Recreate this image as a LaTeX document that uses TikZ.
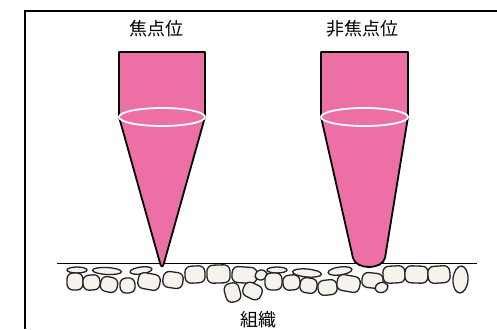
\documentclass[tikz,border=0pt]{standalone}
\usepackage{fontspec}
\newfontfamily\jpfont{Noto Sans CJK JP}
\usetikzlibrary{shapes.geometric}

\definecolor{probepink}{RGB}{236,112,165}
\definecolor{cellfill}{RGB}{245,243,235}
\definecolor{celldraw}{RGB}{35,35,35}

\tikzset{
  probe/.style={fill=probepink, draw=black, line width=1.8pt, line join=round},
  lens/.style={draw=white, line width=1.8pt},
  cell/.style={draw=celldraw, fill=cellfill, line width=1.3pt, rounded corners=6pt,
    inner sep=0pt, outer sep=0pt},
  flatcell/.style={cell, ellipse},
  caption/.style={font=\jpfont\fontsize{18}{20}\selectfont, text=black},
}

\begin{document}
\begin{tikzpicture}[x=1pt, y=-1pt]
	\useasboundingbox (0,0) rectangle (497,329);

	% Frame
	\draw[line width=2pt] (25.3,329) -- (25.3,11) -- (497,11);

	% Tissue: flat cells on top
	\foreach \x/\y/\w/\h/\r [count=\i] in {77/270/20/6/0, 107/271/29/7/-3, 141/270.5/22/7/8,
		277/270/20/6/0, 307/273/29/8/-5, 340/271/24/8/8, 460.5/279.5/15/27/-4}
		\node[flatcell, minimum width=\w, minimum height=\h, rotate=\r] (flat\i) at (\x,\y) {};

	% Tissue: rounded cells
	\foreach \x/\y/\w/\h/\r [count=\i] in {75/281.5/16/17/0, 91.5/282.5/17/15/5, 109/284.5/17/15/-12,
		127.5/285.5/15/15/4, 149/281.5/22/16/-10, 173/280/20/16/-8, 195/274.5/20/17/3,
		218.5/274/23/18/2, 244.5/275/25/16/-4, 261/275/12/10/20, 232.5/292.5/15/19/15,
		252.5/291/19/15/-25, 273.5/281.5/17/17/0, 291.5/282.5/17/15/5, 308.5/285.5/17/15/-8,
		327.5/287.5/19/15/6, 348.5/283.5/23/16/-10, 372.5/280.5/21/15/-6, 381.5/287.5/13/10/15,
		394/274.5/22/17/3, 416.5/274.5/23/17/-2, 439/274.5/22/17/4}
		\node[cell, minimum width=\w, minimum height=\h, rotate=\r] (cell\i) at (\x,\y) {};

	% Tissue surface
	\draw[line width=1.6pt] (57,263.5) -- (477,263.5);

	% Focused probe
	\begin{scope}
		\path[probe] (119,52) -- (205,52) -- (205,117) -- (164,263)
			.. controls (163,267.5) and (161,267.5) .. (160,263) -- (119,117) -- cycle;
		\draw[lens] (162,117) ellipse [x radius=43, y radius=9];
	\end{scope}

	% Defocused probe
	\begin{scope}
		\path[probe] (321,52) -- (408,52) -- (408,117) -- (385,258)
			.. controls (382,270) and (356,270) .. (353,258) -- (321,117) -- cycle;
		\draw[lens] (364.5,117) ellipse [x radius=43.5, y radius=9];
	\end{scope}

	% Labels
	\node[caption] (focus) at (156,29) {焦点位};
	\node[caption] (defocus) at (362,29) {非焦点位};
	\node[caption] (tissue) at (258,320) {組織};
\end{tikzpicture}
\end{document}
